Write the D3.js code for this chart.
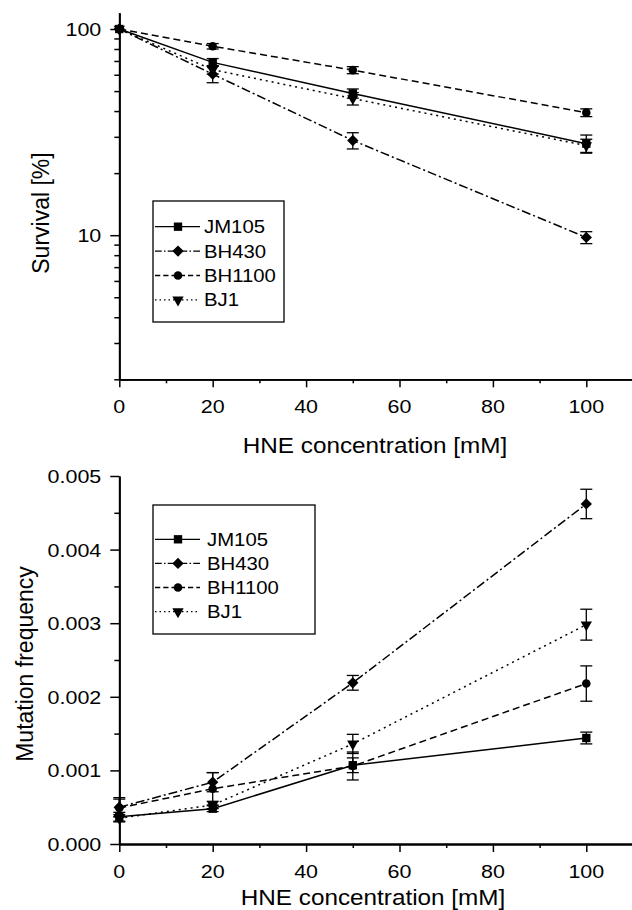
<!DOCTYPE html>
<html>
<head>
<meta charset="utf-8">
<script src="https://cdn.jsdelivr.net/npm/d3@7/dist/d3.min.js"></script>
<style>
  html, body { margin: 0; padding: 0; background: #fff; }
  svg { display: block; }
</style>
</head>
<body>
<svg id="chart" width="632" height="910"></svg>
<script>

// ---- data ----
const concentrations = [0, 20, 50, 100];
const strains = ["JM105", "BH430", "BH1100", "BJ1"];

const survivalJM105 = [100, 68.9, 48.7, 27.8];
const survivalBH430 = [100, 60.4, 28.8, 9.75];
const survivalBH1100 = [100, 82.5, 63.2, 39.3];
const survivalBJ1 = [100, 63.5, 46.0, 27.2];

const survivalErrJM105 = [0, 3.0, 2.5, 2.8];
const survivalErrBH430 = [0, 5.5, 2.6, 0.65];
const survivalErrBH1100 = [0, 2.5, 2.5, 1.7];
const survivalErrBJ1 = [0, 3.0, 3.2, 2.0];

const mutationJM105 = [0.00037, 0.00048, 0.00107, 0.00144];
const mutationBH430 = [0.00050, 0.00084, 0.00219, 0.00462];
const mutationBH1100 = [0.00049, 0.00075, 0.00106, 0.00218];
const mutationBJ1 = [0.00035, 0.00053, 0.00136, 0.00298];

const mutationErrJM105 = [0.00006, 0.00004, 0.00010, 0.00008];
const mutationErrBH430 = [0.00013, 0.00013, 0.00010, 0.00020];
const mutationErrBH1100 = [0.00012, 0.00022, 0.00019, 0.00024];
const mutationErrBJ1 = [0.00005, 0.00005, 0.00013, 0.00021];

const survivalTicks = [10, 100];
const mutationTicks = [0, 0.001, 0.002, 0.003, 0.004, 0.005];
const concentrationTicks = [0, 20, 40, 60, 80, 100];


const FONT = "'Liberation Sans', Arial, Helvetica, sans-serif";
const STRETCH = 1.13;

const styles = {
  JM105:  { symbol: "square",   dash: null },
  BH430:  { symbol: "diamond",  dash: "9,3,2,3" },
  BH1100: { symbol: "circle",   dash: "7,4" },
  BJ1:    { symbol: "triangle", dash: "2,4" }
};

const svg = d3.select("#chart");


function _text(g, x, y, str, size, anchor) {
  return g.append("text")
    .attr("transform", "translate(" + x + "," + y + ") scale(" + STRETCH + ",1)")
    .attr("text-anchor", anchor || "middle")
    .attr("font-family", FONT)
    .attr("font-size", size)
    .attr("fill", "#000")
    .text(str);
}


function _symbol(g, name, x, y) {
  var path;
  if (name === "square") {
    path = d3.symbol(d3.symbolSquare, 70)();
    return g.append("path").attr("d", path).attr("transform", "translate(" + x + "," + y + ")");
  }
  if (name === "diamond") {
    path = d3.symbol(d3.symbolSquare, 64)();
    return g.append("path").attr("d", path).attr("transform", "translate(" + x + "," + y + ") rotate(45)");
  }
  if (name === "circle") {
    path = d3.symbol(d3.symbolCircle, 58)();
    return g.append("path").attr("d", path).attr("transform", "translate(" + x + "," + y + ")");
  }
  path = d3.symbol(d3.symbolTriangle, 56)();
  return g.append("path").attr("d", path).attr("transform", "translate(" + x + "," + y + ") rotate(180)");
}


function _styleAxis(axisG) {
  axisG.select(".domain").attr("stroke", "#000").attr("stroke-width", 1.8);
  axisG.selectAll(".tick line").attr("stroke", "#000").attr("stroke-width", 1.5);
}


function _drawPanel(opts) {

  var g = svg.append("g");
  var x = opts.x, y = opts.y;

  // minor ticks first, major on top
  g.append("g")
    .attr("transform", "translate(0," + opts.y.range()[0] + ")")
    .call(d3.axisBottom(x).tickValues([10, 30, 50, 70, 90]).tickSize(4).tickSizeOuter(0).tickFormat(""))
    .call(_styleAxis);

  var xAxis = g.append("g")
    .attr("transform", "translate(0," + opts.y.range()[0] + ")")
    .call(d3.axisBottom(x).tickValues(concentrationTicks).tickSize(8).tickSizeOuter(0))
    .call(_styleAxis);

  xAxis.selectAll(".tick text").remove();
  concentrationTicks.forEach(function (v) {
    _text(g, x(v), opts.y.range()[0] + 34, String(v), 19, "middle");
  });

  g.append("g")
    .attr("transform", "translate(" + x.range()[0] + ",0)")
    .call(d3.axisLeft(y).tickValues(opts.minorTicks).tickSize(5).tickSizeOuter(0).tickFormat(""))
    .call(_styleAxis);

  var yAxis = g.append("g")
    .attr("transform", "translate(" + x.range()[0] + ",0)")
    .call(d3.axisLeft(y).tickValues(opts.majorTicks).tickSize(9).tickSizeOuter(0))
    .call(_styleAxis);

  yAxis.selectAll(".tick text").remove();
  opts.majorTicks.forEach(function (v) {
    _text(g, x.range()[0] - 18, y(v) + 7, opts.format(v), 19, "end");
  });

  _text(g, opts.xTitleX, opts.xTitleY, "HNE concentration [mM]", 21.5, "middle");

  g.append("text")
    .attr("transform", "translate(" + opts.yTitleX + "," + opts.yTitleY + ") rotate(-90)")
    .attr("text-anchor", "middle")
    .attr("font-family", FONT)
    .attr("font-size", 23)
    .text(opts.yTitle);

  // series
  var line = d3.line()
    .x(function (d) { return x(d.c); })
    .y(function (d) { return y(d.v); });

  opts.series.forEach(function (s) {
    var pts = concentrations.map(function (c, i) {
      return { c: c, v: s.values[i], e: s.errors[i] };
    });
    var st = styles[s.name];

    g.append("path")
      .datum(pts)
      .attr("d", line)
      .attr("fill", "none")
      .attr("stroke", "#000")
      .attr("stroke-width", 1.5)
      .attr("stroke-dasharray", st.dash);

    var eb = g.append("g").attr("stroke", "#000").attr("stroke-width", 1.3);
    pts.forEach(function (p) {
      if (!p.e) return;
      var px = x(p.c), top = y(p.v + p.e), bot = y(p.v - p.e);
      eb.append("line").attr("x1", px).attr("x2", px).attr("y1", top).attr("y2", bot);
      eb.append("line").attr("x1", px - 6).attr("x2", px + 6).attr("y1", top).attr("y2", top);
      eb.append("line").attr("x1", px - 6).attr("x2", px + 6).attr("y1", bot).attr("y2", bot);
    });

    var mk = g.append("g").attr("fill", "#000");
    pts.forEach(function (p) {
      _symbol(mk, st.symbol, x(p.c), y(p.v));
    });
  });

  // legend
  var L = opts.legend;
  var lg = g.append("g");
  lg.append("rect")
    .attr("x", L.x).attr("y", L.y)
    .attr("width", L.w).attr("height", L.h)
    .attr("fill", "#fff")
    .attr("stroke", "#000")
    .attr("stroke-width", 1.3);

  strains.forEach(function (name, i) {
    var ly = L.firstY + i * L.step;
    var st = styles[name];
    lg.append("line")
      .attr("x1", L.x + 2).attr("x2", L.x + 47)
      .attr("y1", ly).attr("y2", ly)
      .attr("stroke", "#000")
      .attr("stroke-width", 1.3)
      .attr("stroke-dasharray", st.dash ? st.dash.split(",").map(function (d) { return d * 0.75; }).join(",") : null);
    _symbol(lg.append("g").attr("fill", "#000"), st.symbol, L.x + 25, ly);
    _text(lg, L.textX, ly + 6.5, name, 18, "start");
  });
}


// ---- survival panel (log scale) ----
var xTop = d3.scaleLinear().domain([0, 110]).range([119.3, 633]);
var yTop = d3.scaleLog().domain([2, 120]).range([379.3, 12.7]);

var survivalMinor = [];
[1, 10].forEach(function (dec) {
  for (var k = 2; k <= 9; k++) {
    if (k * dec >= 2 && k * dec !== 10) survivalMinor.push(k * dec);
  }
});

_drawPanel({
  x: xTop,
  y: yTop,
  majorTicks: survivalTicks,
  minorTicks: survivalMinor,
  format: function (v) { return String(v); },
  yTitle: "Survival [%]",
  yTitleX: 49,
  yTitleY: 213,
  xTitleX: 375,
  xTitleY: 453,
  series: [
    { name: "JM105", values: survivalJM105, errors: survivalErrJM105 },
    { name: "BH430", values: survivalBH430, errors: survivalErrBH430 },
    { name: "BH1100", values: survivalBH1100, errors: survivalErrBH1100 },
    { name: "BJ1", values: survivalBJ1, errors: survivalErrBJ1 }
  ],
  legend: { x: 153, y: 201, w: 131, h: 121, firstY: 226.7, step: 24.4, textX: 204 }
});


// ---- mutation frequency panel ----
var xBot = d3.scaleLinear().domain([0, 110]).range([119.3, 633]);
var yBot = d3.scaleLinear().domain([0, 0.005]).range([844, 476]);

_drawPanel({
  x: xBot,
  y: yBot,
  majorTicks: mutationTicks,
  minorTicks: [0.0005, 0.0015, 0.0025, 0.0035, 0.0045],
  format: d3.format(".3f"),
  yTitle: "Mutation frequency",
  yTitleX: 33,
  yTitleY: 664,
  xTitleX: 373,
  xTitleY: 905,
  series: [
    { name: "JM105", values: mutationJM105, errors: mutationErrJM105 },
    { name: "BH430", values: mutationBH430, errors: mutationErrBH430 },
    { name: "BH1100", values: mutationBH1100, errors: mutationErrBH1100 },
    { name: "BJ1", values: mutationBJ1, errors: mutationErrBJ1 }
  ],
  legend: { x: 153, y: 505, w: 162, h: 129, firstY: 539.3, step: 24.1, textX: 207 }
});

</script>
</body>
</html>
